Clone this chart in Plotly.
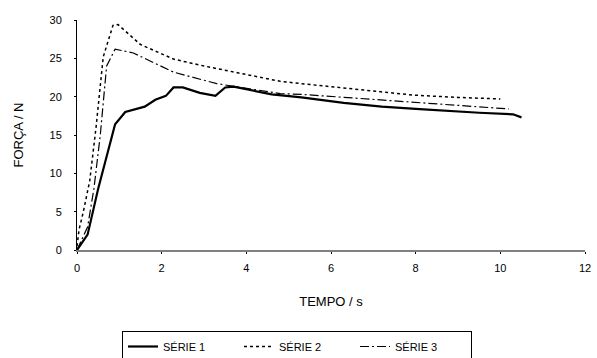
import plotly.graph_objects as go

s1_t = [0, 0.25, 0.5, 0.9, 1.14, 1.6, 1.85, 2.1, 2.28, 2.5, 2.9, 3.27, 3.5, 3.7, 4.6, 5.3, 6.3, 7.2, 8.0, 8.8, 9.5, 10.3, 10.5]
s1_f = [0, 2.0, 8.0, 16.4, 18.0, 18.7, 19.6, 20.1, 21.2, 21.2, 20.5, 20.1, 21.2, 21.3, 20.3, 19.9, 19.2, 18.7, 18.4, 18.1, 17.9, 17.7, 17.3]

s2_t = [0, 0.05, 0.15, 0.3, 0.45, 0.62, 0.85, 0.97, 1.5, 2.28, 3.0, 3.7, 4.8, 5.3, 6.5, 7.95, 9.0, 10.0]
s2_f = [0.5, 2.7, 5.0, 9.0, 16.0, 25.2, 29.3, 29.4, 26.8, 24.9, 24.0, 23.2, 22.0, 21.7, 21.0, 20.2, 19.9, 19.7]

s3_t = [0, 0.25, 0.4, 0.55, 0.7, 0.9, 1.33, 2.28, 3.3, 4.8, 5.3, 6.3, 7.17, 8.5, 10.2]
s3_f = [0, 3.0, 8.0, 15.0, 24.0, 26.2, 25.7, 23.2, 21.7, 20.4, 20.3, 19.9, 19.6, 19.0, 18.4]

names = ["SÉRIE 1", "SÉRIE 2", "SÉRIE 3"]
x_ticks = [0, 2, 4, 6, 8, 10, 12]
y_ticks = [0, 5, 10, 15, 20, 25, 30]

fig = go.Figure()
fig.add_trace(go.Scatter(x=s1_t, y=s1_f, mode="lines", name=names[0],
                         line=dict(color="black", width=2.2)))
fig.add_trace(go.Scatter(x=s2_t, y=s2_f, mode="lines", name=names[1],
                         line=dict(color="black", width=1.5, dash="3px,3px")))
fig.add_trace(go.Scatter(x=s3_t, y=s3_f, mode="lines", name=names[2],
                         line=dict(color="black", width=1.2, dash="9px,3px,2px,3px")))

font = "Liberation Sans, Arial, sans-serif"
fig.update_layout(
    width=597, height=358,
    margin=dict(l=77, r=12, t=20, b=108, autoexpand=False),
    paper_bgcolor="white", plot_bgcolor="white",
    font=dict(family=font, size=11, color="black"),
    showlegend=True,
    legend=dict(orientation="h", x=122 / 597, xref="container", xanchor="left",
                y=1 - 331 / 358, yref="container", yanchor="top",
                bordercolor="black", borderwidth=1, bgcolor="white",
                font=dict(size=11, color="black"), entrywidth=71, entrywidthmode="pixels",
                tracegroupgap=0),
    xaxis=dict(range=[0, 12], tickvals=x_ticks, showgrid=False, zeroline=False,
               showline=True, linecolor="#808080", linewidth=2,
               ticks="outside", ticklen=2, tickcolor="black", tickwidth=1,
               tickfont=dict(size=11, color="black"), ticklabelstandoff=5,
               title=dict(text="TEMPO / s", font=dict(size=13, color="black"), standoff=24)),
    yaxis=dict(range=[0, 30], tickvals=y_ticks, showgrid=False, zeroline=False,
               showline=True, linecolor="black", linewidth=1,
               ticks="outside", ticklen=2, tickcolor="black", tickwidth=1,
               tickfont=dict(size=11, color="black"), ticklabelstandoff=10,
               title=dict(text="FORÇA / N", font=dict(size=13, color="black"), standoff=22)),
)

fig.write_html("out.html")
